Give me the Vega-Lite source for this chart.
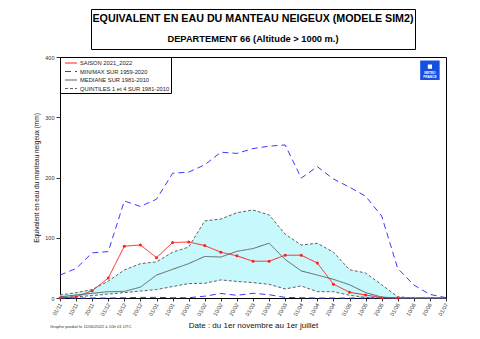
{
  "$schema": "https://vega.github.io/schema/vega-lite/v6.json",
  "background": "white",
  "padding": {"left": 33, "top": 8, "right": 5, "bottom": 4},
  "config": {
    "font": "Liberation Sans",
    "view": {"stroke": "black", "strokeWidth": 1},
    "axis": {"grid": false, "domain": false, "labelColor": "#333333", "tickColor": "#333333", "titleColor": "#111111", "titleFontWeight": "normal"}
  },
  "datasets": {
    "snow": [
      {"d": "01/11", "saison": 0, "max": 38, "min": 0, "med": 2, "q1": 1, "q4": 5},
      {"d": "10/11", "saison": 2, "max": 49, "min": 0, "med": 5, "q1": 2, "q4": 8.8},
      {"d": "20/11", "saison": 12, "max": 75, "min": 0, "med": 7.8, "q1": 4, "q4": 14},
      {"d": "01/12", "saison": 33, "max": 77, "min": 0, "med": 10.5, "q1": 6.5, "q4": 28},
      {"d": "10/12", "saison": 86, "max": 161, "min": 0.5, "med": 11, "q1": 9, "q4": 46.5},
      {"d": "20/12", "saison": 88, "max": 152, "min": 1, "med": 18, "q1": 11.5, "q4": 57},
      {"d": "01/01", "saison": 67, "max": 164, "min": 1, "med": 38, "q1": 14, "q4": 60},
      {"d": "10/01", "saison": 92, "max": 207, "min": 0.5, "med": 47.6, "q1": 19, "q4": 76},
      {"d": "20/01", "saison": 93, "max": 209, "min": 0.5, "med": 57, "q1": 24, "q4": 84.5},
      {"d": "01/02", "saison": 87, "max": 221, "min": 3, "med": 69, "q1": 24.4, "q4": 128},
      {"d": "10/02", "saison": 76, "max": 242, "min": 7.5, "med": 68, "q1": 30, "q4": 131},
      {"d": "20/02", "saison": 70, "max": 240, "min": 4.5, "med": 77.5, "q1": 27.5, "q4": 141.6},
      {"d": "01/03", "saison": 61, "max": 248, "min": 7.8, "med": 82, "q1": 25.5, "q4": 146},
      {"d": "10/03", "saison": 61, "max": 252, "min": 5.5, "med": 91, "q1": 22.7, "q4": 138},
      {"d": "20/03", "saison": 71, "max": 254, "min": 1, "med": 64, "q1": 15, "q4": 106},
      {"d": "01/04", "saison": 71, "max": 199, "min": 0.5, "med": 45, "q1": 20, "q4": 88},
      {"d": "10/04", "saison": 58, "max": 218, "min": 0, "med": 38, "q1": 10.5, "q4": 90.8},
      {"d": "20/04", "saison": 23, "max": 197.5, "min": 0, "med": 31, "q1": 10.5, "q4": 76},
      {"d": "01/05", "saison": 9.5, "max": 184, "min": 0, "med": 22, "q1": 4.5, "q4": 47},
      {"d": "10/05", "saison": 5, "max": 169, "min": 0, "med": 9, "q1": 1, "q4": 41.5},
      {"d": "20/05", "saison": 0.5, "max": 136, "min": 0, "med": 1.5, "q1": 0, "q4": 22},
      {"d": "01/06", "saison": 0, "max": 49, "min": 0, "med": 0, "q1": 0, "q4": 2},
      {"d": "10/06", "saison": null, "max": 21.6, "min": 0, "med": 0, "q1": 0, "q4": 0},
      {"d": "20/06", "saison": null, "max": 6, "min": 0, "med": 0, "q1": 0, "q4": 0},
      {"d": "01/07", "saison": null, "max": 0.5, "min": 0, "med": 0, "q1": 0, "q4": 0}
    ],
    "series": [
      {"p": "saison", "s": "SAISON 2021_2022"},
      {"p": "max", "s": "MIN/MAX SUR 1959-2020"},
      {"p": "min", "s": "MIN/MAX SUR 1959-2020"},
      {"p": "med", "s": "MEDIANE SUR 1981-2010"},
      {"p": "q1", "s": "QUINTILES 1 et 4 SUR 1981-2010"},
      {"p": "q4", "s": "QUINTILES 1 et 4 SUR 1981-2010"}
    ],
    "titles": [
      {"k": 1, "t": "EQUIVALENT EN EAU DU MANTEAU NEIGEUX (MODELE SIM2)"},
      {"k": 2, "t": "DEPARTEMENT 66  (Altitude > 1000 m.)"}
    ]
  },
  "resolve": {"scale": {"color": "independent", "strokeDash": "independent", "strokeWidth": "independent"}},
  "vconcat": [
    {
      "width": 324,
      "height": 40,
      "data": {"name": "titles"},
      "encoding": {
        "y": {"field": "k", "type": "ordinal", "scale": {"type": "point", "padding": 0.55}, "axis": null},
        "text": {"field": "t"}
      },
      "layer": [
        {
          "transform": [{"filter": "datum.k == 1"}],
          "mark": {"type": "text", "fontSize": 10.7, "fontWeight": "bold", "color": "black", "baseline": "middle", "align": "center"}
        },
        {
          "transform": [{"filter": "datum.k == 2"}],
          "mark": {"type": "text", "fontSize": 9.3, "fontWeight": "bold", "color": "black", "baseline": "middle", "align": "center"}
        }
      ]
    },
    {
      "width": 386,
      "height": 241,
      "title": {"text": "Graphe produit le 11/06/2022 à 10h 01 UTC", "orient": "bottom", "anchor": "start", "frame": "group", "fontSize": 4.2, "fontWeight": "normal", "color": "#333333", "dx": -10, "offset": -5},
      "data": {"name": "snow"},
      "encoding": {
        "x": {
          "field": "d", "type": "ordinal",
          "scale": {"type": "point", "padding": 0, "domain": ["01/11","10/11","20/11","01/12","10/12","20/12","01/01","10/01","20/01","01/02","10/02","20/02","01/03","10/03","20/03","01/04","10/04","20/04","01/05","10/05","20/05","01/06","10/06","20/06","01/07"]},
          "axis": {"title": "Date : du 1er novembre au 1er juillet", "titleFontSize": 8, "titlePadding": 5, "labelAngle": -60, "labelFontSize": 5.5, "labelAlign": "right", "labelBaseline": "middle", "labelPadding": 2, "tickSize": 3}
        }
      },
      "layer": [
        {
          "mark": {"type": "area", "color": "#c6f8fc", "opacity": 1},
          "encoding": {
            "y": {"field": "q1", "type": "quantitative", "scale": {"domain": [0, 400]}, "axis": {"title": "Equivalent en eau du manteau neigeux (mm)", "titleFontSize": 6.5, "titlePadding": 5, "labelFontSize": 5.5, "tickSize": 4, "values": [0, 50, 100, 150, 200, 250, 300, 350, 400]}},
            "y2": {"field": "q4"}
          }
        },
        {
          "transform": [
            {"fold": ["saison", "max", "min", "med", "q1", "q4"], "as": ["p", "v"]},
            {"filter": "isValid(datum.v)"},
            {"lookup": "p", "from": {"data": {"name": "series"}, "key": "p", "fields": ["s"]}}
          ],
          "mark": {"type": "line", "strokeWidth": 1},
          "encoding": {
            "y": {"field": "v", "type": "quantitative"},
            "detail": {"field": "p"},
            "color": {
              "field": "s", "type": "nominal",
              "scale": {"domain": ["SAISON 2021_2022", "MIN/MAX SUR 1959-2020", "MEDIANE SUR 1981-2010", "QUINTILES 1 et 4 SUR 1981-2010"], "range": ["#ff1f1f", "#3a3aff", "#5a6464", "#5a6464"]},
              "legend": {"orient": "top-left", "offset": 0, "title": null, "strokeColor": "black", "fillColor": "white", "padding": 1, "labelFontSize": 5.75, "labelColor": "#222222", "symbolType": "M-1.5,0H1.5", "symbolSize": 64, "symbolStrokeWidth": 1, "symbolOffset": 5, "rowPadding": 0.5, "labelOffset": 4, "cornerRadius": 0}
            },
            "strokeDash": {
              "field": "s", "type": "nominal",
              "scale": {"domain": ["SAISON 2021_2022", "MIN/MAX SUR 1959-2020", "MEDIANE SUR 1981-2010", "QUINTILES 1 et 4 SUR 1981-2010"], "range": [[1, 0], [6, 4], [1, 0], [3, 2]]}
            },
            "strokeWidth": {
              "field": "s", "type": "nominal",
              "scale": {"domain": ["SAISON 2021_2022", "MIN/MAX SUR 1959-2020", "MEDIANE SUR 1981-2010", "QUINTILES 1 et 4 SUR 1981-2010"], "range": [1.1, 1.2, 0.8, 0.8]},
              "legend": null
            }
          }
        },
        {
          "transform": [{"filter": "isValid(datum.saison)"}],
          "mark": {"type": "point", "shape": "circle", "filled": true, "color": "#ff1f1f", "size": 9, "opacity": 1},
          "encoding": {"y": {"field": "saison", "type": "quantitative"}}
        },
        {
          "data": {"values": [{}]},
          "mark": {"type": "point", "shape": "square", "filled": true, "color": "#1550e0", "size": 380, "opacity": 1},
          "encoding": {"x": {"datum": "20/06"}, "y": {"datum": 378}}
        },
        {
          "data": {"values": [{}]},
          "mark": {"type": "text", "text": ["METEO", "FRANCE"], "fontSize": 3.2, "fontWeight": "bold", "color": "white", "lineHeight": 3.6, "baseline": "middle", "align": "center"},
          "encoding": {"x": {"datum": "20/06"}, "y": {"datum": 373}}
        },
        {
          "data": {"values": [{}]},
          "mark": {"type": "point", "shape": "square", "filled": true, "color": "white", "size": 18, "opacity": 1},
          "encoding": {"x": {"datum": "20/06"}, "y": {"datum": 384}}
        }
      ]
    }
  ],
  "spacing": 8,
  "center": true,
  "bounds": "flush"
}
